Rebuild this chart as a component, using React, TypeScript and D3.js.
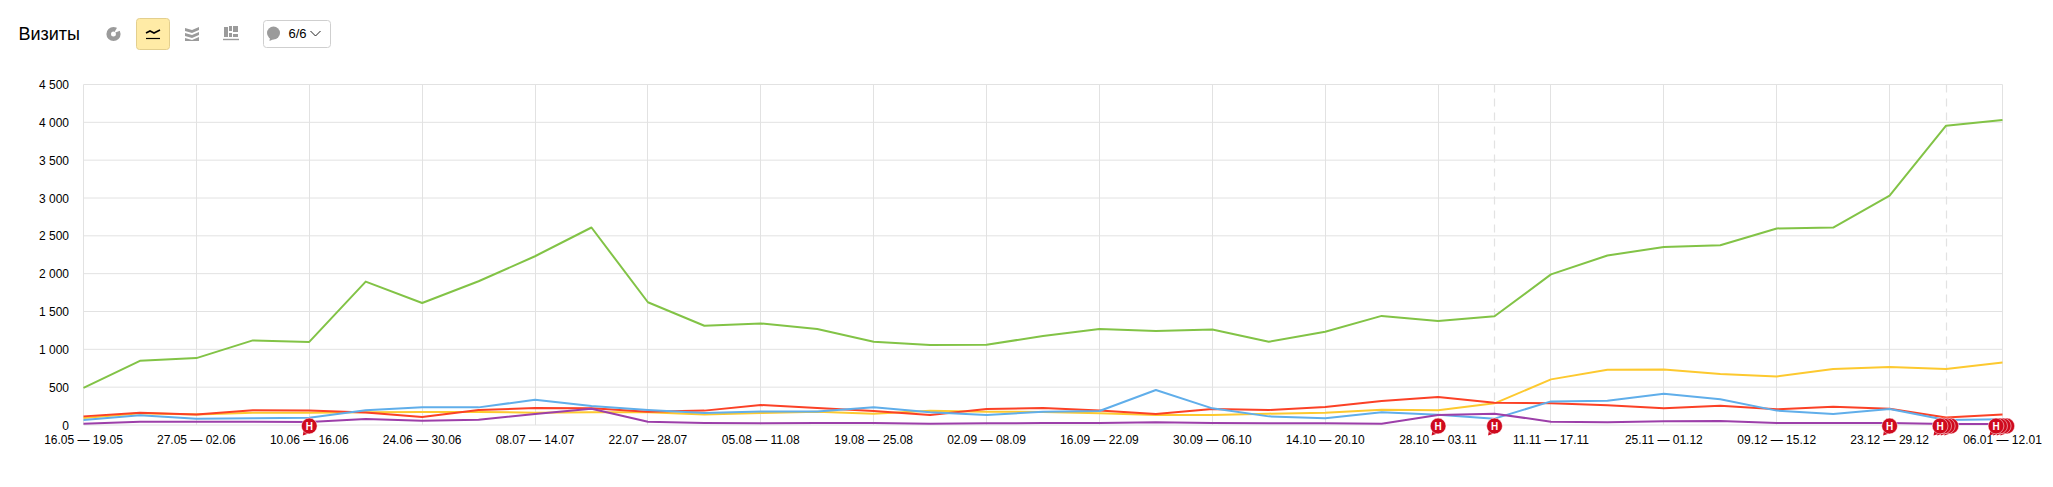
import React from "react";
import * as d3 from "d3";

const tickLabels = ["16.05 — 19.05","27.05 — 02.06","10.06 — 16.06","24.06 — 30.06","08.07 — 14.07","22.07 — 28.07","05.08 — 11.08","19.08 — 25.08","02.09 — 08.09","16.09 — 22.09","30.09 — 06.10","14.10 — 20.10","28.10 — 03.11","11.11 — 17.11","25.11 — 01.12","09.12 — 15.12","23.12 — 29.12","06.01 — 12.01"];
const yTicks = [0,500,1000,1500,2000,2500,3000,3500,4000,4500];
const green = [490,848,884,1118,1098,1895,1612,1900,2230,2610,1622,1312,1342,1268,1100,1058,1062,1175,1268,1242,1262,1100,1232,1442,1375,1438,1990,2240,2352,2375,2598,2610,3030,3955,4030];
const yellow = [92,154,140,163,163,167,172,172,163,167,167,140,158,176,150,189,176,172,154,132,132,150,163,202,194,286,603,730,735,673,642,740,765,740,825];
const red = [114,163,140,194,190,165,105,198,224,220,176,190,264,224,185,132,211,224,190,145,211,198,238,317,370,295,286,260,220,255,207,242,216,100,140];
const blue = [66,128,84,88,97,194,233,233,334,250,198,158,180,180,233,167,132,176,185,462,220,114,88,167,136,84,312,321,414,339,190,145,211,66,75];
const purple = [18,44,44,44,40,79,57,70,145,216,44,26,22,26,26,18,22,26,26,35,26,22,22,18,132,150,44,35,48,53,26,26,26,13,13];
const seriesList: [number[], string][] = [[green,"#82c346"],[yellow,"#fdc92f"],[red,"#fb4126"],[blue,"#60aeea"],[purple,"#9c3fa9"]];
const dashedAt = [25,33];
const pins: [number, number, number][] = [[4,0,0],[24,0,0],[25,0,0],[32,0,0],[33,-6,3],[34,-6.5,3]];

const W = 2053, H = 487;
const x = d3.scaleLinear().domain([0,34]).range([83.5,2002.5]);
const y = d3.scaleLinear().domain([0,4500]).range([425,84.5]);
const line = d3.line<number>().x((_, i) => x(i)).y(d => y(d));
const fmt = (v: number) => (v >= 1000 ? `${Math.floor(v/1000)} ${String(v%1000).padStart(3,"0")}` : String(v));
const font = "'Liberation Sans', Arial, sans-serif";
const GRID = "#e2e2e2", ICON = "#9b9b9b";

function Pin({cx}: {cx: number}) {
  const cy = 426;
  return (
    <g>
      <path d={`M${cx-5.5},${cy+4} L${cx-6.5},${cy+9.5} L${cx+1},${cy+7} Z`} fill="#cf0a1e"/>
      <circle cx={cx} cy={cy} r={7.9} fill="#cf0a1e" stroke="#fff" strokeWidth={0.5}/>
    </g>
  );
}

export default function App() {
  return (
    <svg width={W} height={H} style={{position:"absolute",left:0,top:0,display:"block",background:"#fff"}} fontFamily={font}>
      <text x={18.5} y={40} fontSize={18} fill="#000">Визиты</text>

      {/* donut */}
      <circle cx={113.5} cy={34} r={4.8} fill="none" stroke={ICON} strokeWidth={4.6}/>
      <path d="M114,33 L118,26 L122,30 Z" fill="#fff"/>
      {/* active line button */}
      <rect x={136.5} y={18.5} width={33} height={31} rx={3} fill="#ffeba6" stroke="#e3cf8e"/>
      <path d="M146,33 L150,31 L154,33 L160,30" fill="none" stroke="#000" strokeWidth={1.6}/>
      <path d="M146,38.5 H160" stroke="#000" strokeWidth={1.2}/>
      {/* stacked area */}
      <path d="M185,28 L192,30 L199,27 V30 L192,33 L185,31 Z M185,33 L192,35 L199,32 V35 L192,38 L185,36 Z M185,38 L192,40 L199,37 V41 H185 Z" fill={ICON}/>
      {/* bars */}
      <path d="M224,27 h4 v10 h-4 Z M229,26 h3 v5 h-3 Z M229,33 h3 v4 h-3 Z M233,26 h5 v6 h-5 Z M233,34 h5 v3 h-5 Z" fill={ICON}/>
      <path d="M223,39.5 H239" stroke={ICON} strokeWidth={1.4}/>
      {/* dropdown */}
      <rect x={263.5} y={20.5} width={67} height={27} rx={3} fill="#fff" stroke="#cfcfcf"/>
      <circle cx={273.5} cy={33} r={6.5} fill={ICON}/>
      <path d="M270,37 L269.5,41 L275,38.5 Z" fill={ICON}/>
      <text x={288.5} y={38} fontSize={13} fill="#000">6/6</text>
      <path d="M310.5,31 L315.5,36 L320.5,31" fill="none" stroke="#222" strokeWidth={1}/>

      {yTicks.map(t => (
        <g key={t}>
          <line x1={x(0)} x2={x(34)} y1={y(t)} y2={y(t)} stroke={GRID}/>
          <text x={69} y={y(t)+4.5} fontSize={12} textAnchor="end" fill="#000">{fmt(t)}</text>
        </g>
      ))}
      {tickLabels.map((l,i) => (
        <g key={l}>
          <line x1={Math.round(x(i*2)-0.5)+0.5} x2={Math.round(x(i*2)-0.5)+0.5} y1={y(4500)} y2={y(0)} stroke={GRID}/>
          <text x={x(i*2)} y={444} fontSize={12} textAnchor="middle" fill="#000">{l}</text>
        </g>
      ))}
      {dashedAt.map(i => (
        <line key={i} x1={Math.round(x(i)-0.5)+0.5} x2={Math.round(x(i)-0.5)+0.5} y1={y(4500)} y2={y(0)} stroke={GRID} strokeWidth={1.2} strokeDasharray="8 6"/>
      ))}
      {seriesList.map(([vals,c],i) => (
        <path key={i} d={line(vals) as string} fill="none" stroke={c} strokeWidth={2} strokeLinejoin="round"/>
      ))}
      {pins.map(([idx,dx,n]) => (
        <g key={idx}>
          {d3.range(n,-1,-1).map(k => <Pin key={k} cx={x(idx)+dx+k*3.6}/>)}
          <text x={x(idx)+dx} y={429.5} fontSize={10} fontWeight="bold" textAnchor="middle" fill="#fff">Н</text>
        </g>
      ))}
    </svg>
  );
}
